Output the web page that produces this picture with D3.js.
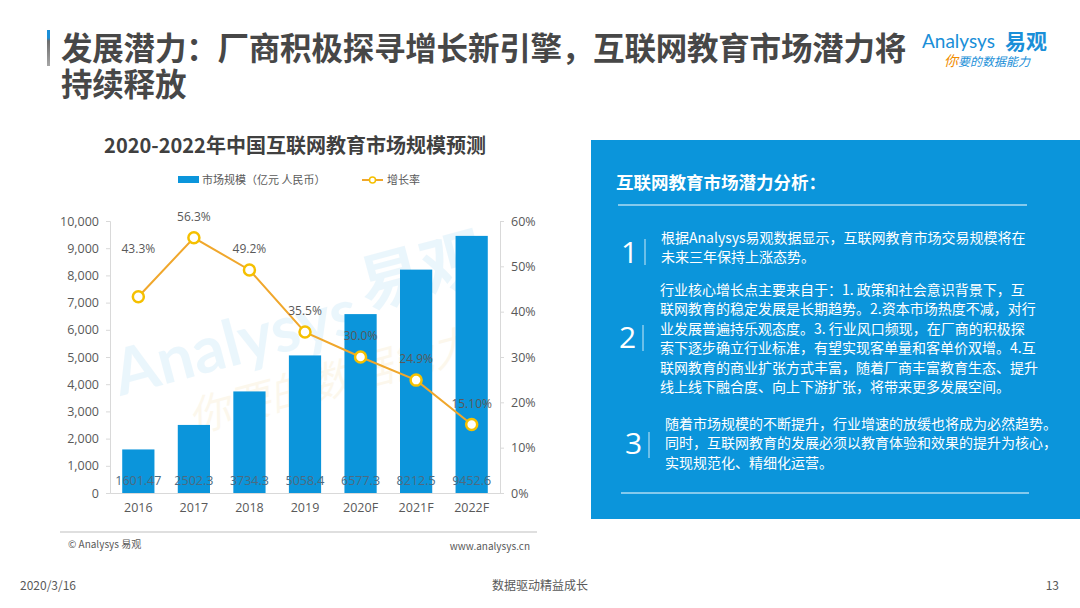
<!DOCTYPE html>
<html>
<head>
<meta charset="utf-8">
<title>互联网教育市场规模预测</title>
<script src="https://d3js.org/d3.v7.min.js"></script>
<style>
  html, body { margin: 0; padding: 0; background: #fff; }
  #wrap { position: relative; width: 1080px; height: 608px; }
  svg { display: block; font-family: "Noto Sans CJK SC", "Noto Sans", sans-serif; }
  #pageTitle {
    position: absolute; left: 61px; top: 28px; width: 868px;
    font-family: "Noto Sans CJK SC", sans-serif; font-weight: bold;
    font-size: 31.5px; line-height: 36px; letter-spacing: -0.2px; color: #474747;
  }
</style>
</head>
<body>
<div id="wrap">
  <div id="chart"></div>
  <div id="pageTitle"></div>
</div>
<script>
// data
var years = ["2016", "2017", "2018", "2019", "2020F", "2021F", "2022F"];
var marketSize = [1601.47, 2502.3, 3734.3, 5058.4, 6577.3, 8212.5, 9452.6];
var sizeLabels = ["1601.47", "2502.3", "3734.3", "5058.4", "6577.3", "8212.5", "9452.6"];
var growthRate = [0.433, 0.563, 0.492, 0.355, 0.300, 0.249, 0.151];
var growthLabels = ["43.3%", "56.3%", "49.2%", "35.5%", "30.0%", "24.9%", "15.10%"];
var leftTicks = [0, 1000, 2000, 3000, 4000, 5000, 6000, 7000, 8000, 9000, 10000];
var rightTicks = [0, 0.1, 0.2, 0.3, 0.4, 0.5, 0.6];

var panelItems = [
  ["根据Analysys易观数据显示，互联网教育市场交易规模将在",
   "未来三年保持上涨态势。"],
  ["行业核心增长点主要来自于：1. 政策和社会意识背景下，互",
   "联网教育的稳定发展是长期趋势。2.资本市场热度不减，对行",
   "业发展普遍持乐观态度。3. 行业风口频现，在厂商的积极探",
   "索下逐步确立行业标准，有望实现客单量和客单价双增。4.互",
   "联网教育的商业扩张方式丰富，随着厂商丰富教育生态、提升",
   "线上线下融合度、向上下游扩张，将带来更多发展空间。"],
  ["随着市场规模的不断提升，行业增速的放缓也将成为必然趋势。",
   "同时，互联网教育的发展必须以教育体验和效果的提升为核心，",
   "实现规范化、精细化运营。"]
];

var width = 1080, height = 608;
var blue = "#0b95db", orange = "#f0a72c", ringYellow = "#f5c000", grayText = "#595959";

var svg = d3.select("#chart").append("svg")
    .attr("width", width)
    .attr("height", height);

// ---- page title (wraps by itself inside the div)
d3.select("#pageTitle").text("发展潜力：厂商积极探寻增长新引擎，互联网教育市场潜力将持续释放");

var grad = svg.append("defs").append("linearGradient")
    .attr("id", "barGrad").attr("x1", 0).attr("y1", 0).attr("x2", 0).attr("y2", 1);
grad.append("stop").attr("offset", "0%").attr("stop-color", "#1a8fd8");
grad.append("stop").attr("offset", "22%").attr("stop-color", "#1a8fd8");
grad.append("stop").attr("offset", "30%").attr("stop-color", "#6d6d6d");
grad.append("stop").attr("offset", "100%").attr("stop-color", "#a6a6a6");
svg.append("rect").attr("x", 47).attr("y", 30).attr("width", 3).attr("height", 36)
    .attr("fill", "url(#barGrad)");

// logo
svg.append("text").attr("x", 922).attr("y", 48)
    .attr("font-size", 19).attr("fill", "#1a8fd8").attr("font-family", "Lato, sans-serif")
    .text("Analysys");
svg.append("text").attr("x", 1005).attr("y", 49)
    .attr("font-size", 21).attr("font-weight", "bold").attr("fill", "#1a8fd8")
    .text("易观");
var slogan = svg.append("text").attr("x", 944).attr("y", 66)
    .attr("font-size", 12).attr("font-style", "italic").attr("fill", "#1a8fd8");
slogan.append("tspan").attr("fill", "#f08c00").attr("font-size", 14).text("你");
slogan.append("tspan").text("要的数据能力");

// ---- chart
var x = d3.scaleBand().domain(years).range([110, 500]).paddingInner(0.42).paddingOuter(0.22);
var yLeft = d3.scaleLinear().domain([0, 10000]).range([493, 221]);
var yRight = d3.scaleLinear().domain([0, 0.6]).range([493, 221]);

svg.append("text").attr("x", 295).attr("y", 153)
    .attr("text-anchor", "middle").attr("font-size", 20).attr("font-weight", "bold")
    .attr("fill", "#404040")
    .text("2020-2022年中国互联网教育市场规模预测");

// legend
svg.append("rect").attr("x", 178).attr("y", 176).attr("width", 21).attr("height", 7).attr("fill", blue);
svg.append("text").attr("x", 202).attr("y", 184).attr("font-size", 11).attr("fill", grayText)
    .text("市场规模（亿元 人民币）");
svg.append("line").attr("x1", 362).attr("x2", 383).attr("y1", 180).attr("y2", 180)
    .attr("stroke", orange).attr("stroke-width", 2);
svg.append("circle").attr("cx", 372.5).attr("cy", 180).attr("r", 3)
    .attr("fill", "#fff").attr("stroke", ringYellow).attr("stroke-width", 1.5);
svg.append("text").attr("x", 387).attr("y", 184).attr("font-size", 11).attr("fill", grayText)
    .text("增长率");

// watermark
var wm = svg.append("g").attr("opacity", 0.08).attr("fill", "#0b95db")
    .attr("transform", "rotate(-15 250 320)");
wm.append("text").attr("x", 105).attr("y", 360).attr("font-size", 64).attr("font-weight", "bold")
    .attr("font-family", "Lato, sans-serif").text("Analysys");
wm.append("text").attr("x", 365).attr("y", 340).attr("font-size", 64).attr("font-weight", "bold").text("易观");
svg.append("g").attr("opacity", 0.07).attr("transform", "rotate(-15 250 320)")
  .append("text").attr("x", 165).attr("y", 415).attr("font-size", 42)
    .attr("fill", "#d9a000").attr("font-style", "italic").text("你要的数据能力");

// axes
var gLeft = svg.append("g").attr("transform", "translate(110,0)")
    .call(d3.axisLeft(yLeft).tickValues(leftTicks).tickSize(4).tickFormat(d3.format(",")));
var gRight = svg.append("g").attr("transform", "translate(500,0)")
    .call(d3.axisRight(yRight).tickValues(rightTicks).tickSize(4).tickFormat(d3.format(".0%")));
var gBottom = svg.append("g").attr("transform", "translate(0,493)")
    .call(d3.axisBottom(x).tickSize(0).tickPadding(10));

[gLeft, gRight, gBottom].forEach(function (g) {
  g.selectAll(".domain").attr("stroke", "#d9d9d9");
  g.selectAll(".tick line").attr("stroke", "#d9d9d9");
  g.selectAll(".tick text").attr("fill", grayText).attr("font-size", 12.5)
      .attr("font-family", "\"Open Sans\", \"Noto Sans\", sans-serif");
});
gLeft.selectAll(".tick text").attr("dx", -4);
gRight.selectAll(".tick text").attr("dx", 4);

// bars
svg.selectAll(".bar").data(years).enter().append("rect")
    .attr("class", "bar")
    .attr("x", function (d) { return x(d); })
    .attr("width", x.bandwidth())
    .attr("y", function (d, i) { return yLeft(marketSize[i]); })
    .attr("height", function (d, i) { return yLeft(0) - yLeft(marketSize[i]); })
    .attr("fill", blue);

svg.selectAll(".barLabel").data(years).enter().append("text")
    .attr("class", "barLabel")
    .attr("x", function (d) { return x(d) + x.bandwidth() / 2; })
    .attr("y", yLeft(0) - 8)
    .attr("text-anchor", "middle").attr("font-size", 12.5).attr("fill", "#4d6a80")
    .attr("font-family", "\"Open Sans\", sans-serif")
    .text(function (d, i) { return sizeLabels[i]; });

// growth line
var cx = function (d, i) { return x(years[i]) + x.bandwidth() / 2; };
var line = d3.line().x(cx).y(function (d) { return yRight(d); });
svg.append("path").datum(growthRate)
    .attr("d", line).attr("fill", "none").attr("stroke", orange).attr("stroke-width", 2);

svg.selectAll(".dot").data(growthRate).enter().append("circle")
    .attr("class", "dot")
    .attr("cx", cx).attr("cy", function (d) { return yRight(d); })
    .attr("r", 5.5).attr("fill", "#fff").attr("stroke", ringYellow).attr("stroke-width", 2.5);

svg.selectAll(".dotLabel").data(growthRate).enter().append("text")
    .attr("class", "dotLabel")
    .attr("x", cx)
    .attr("y", function (d, i) { return yRight(d) - (i === 0 ? 44 : 17); })
    .attr("text-anchor", "middle").attr("font-size", 12).attr("fill", grayText)
    .attr("font-family", "\"Open Sans\", sans-serif")
    .text(function (d, i) { return growthLabels[i]; });

// chart footer
svg.append("line").attr("x1", 60).attr("x2", 537).attr("y1", 532).attr("y2", 532)
    .attr("stroke", "#bfbfbf").attr("stroke-width", 1);
svg.append("text").attr("x", 68).attr("y", 548).attr("font-size", 10).attr("fill", grayText)
    .text("© Analysys 易观");
svg.append("text").attr("x", 530).attr("y", 550).attr("text-anchor", "end")
    .attr("font-size", 10).attr("fill", grayText).text("www.analysys.cn");

// ---- right panel
svg.append("rect").attr("x", 591).attr("y", 140).attr("width", 489).attr("height", 379).attr("fill", blue);
svg.append("text").attr("x", 616).attr("y", 189).attr("font-size", 17.5).attr("font-weight", "bold")
    .attr("fill", "#fff").text("互联网教育市场潜力分析：");
svg.append("line").attr("x1", 618).attr("x2", 1027).attr("y1", 205).attr("y2", 205)
    .attr("stroke", "#fff").attr("stroke-width", 1);
svg.append("line").attr("x1", 621).attr("x2", 1029).attr("y1", 493).attr("y2", 493)
    .attr("stroke", "#fff").attr("stroke-width", 1);

var itemLayout = [
  { numX: 621, numY: 263, sepX: 645, sepY: [239, 265], textX: 661, firstY: 243 },
  { numX: 619, numY: 348, sepX: 643, sepY: [325, 351], textX: 660, firstY: 295 },
  { numX: 625, numY: 454, sepX: 649, sepY: [432, 458], textX: 665, firstY: 429 }
];
panelItems.forEach(function (lines, k) {
  var L = itemLayout[k];
  svg.append("text").attr("x", L.numX).attr("y", L.numY).attr("font-size", 30)
      .attr("fill", "#fff").attr("font-family", "\"Open Sans\", sans-serif")
      .text(String(k + 1));
  svg.append("line").attr("x1", L.sepX).attr("x2", L.sepX).attr("y1", L.sepY[0]).attr("y2", L.sepY[1])
      .attr("stroke", "#fff").attr("stroke-width", 1).attr("opacity", 0.8);
  lines.forEach(function (t, j) {
    svg.append("text").attr("x", L.textX).attr("y", L.firstY + j * 19.4)
        .attr("font-size", 14).attr("fill", "#fff").text(t);
  });
});

// ---- page footer
svg.append("text").attr("x", 20).attr("y", 590).attr("font-size", 12).attr("fill", grayText).text("2020/3/16");
svg.append("text").attr("x", 540).attr("y", 590).attr("text-anchor", "middle").attr("font-size", 12)
    .attr("fill", grayText).text("数据驱动精益成长");
svg.append("text").attr("x", 1059).attr("y", 590).attr("text-anchor", "end").attr("font-size", 12)
    .attr("fill", grayText).text("13");
</script>
</body>
</html>
